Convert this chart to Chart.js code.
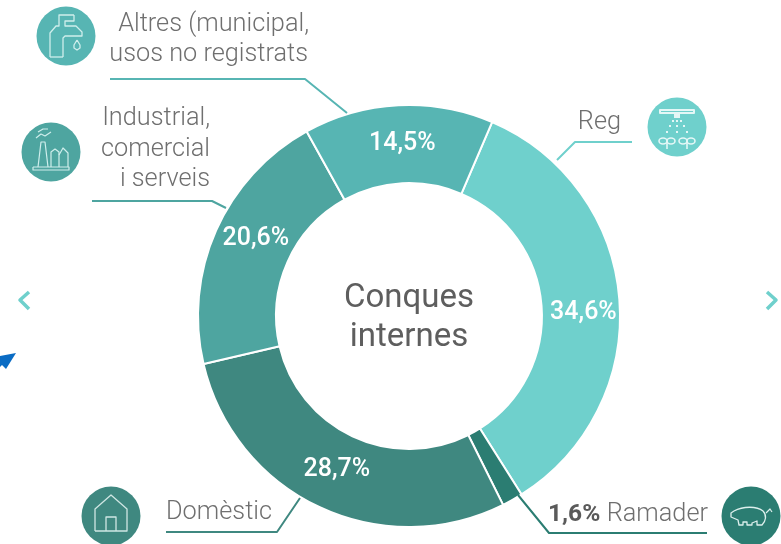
<!DOCTYPE html>
<html><head><meta charset="utf-8">
<style>html,body{margin:0;padding:0;background:#fff}canvas{display:block}#w{width:781px;height:544px;position:relative}</style>
<script src="https://cdn.jsdelivr.net/npm/chart.js@4/dist/chart.umd.min.js"></script>
</head><body><div id="w"><canvas id="c" width="781" height="544"></canvas></div>
<script>
const categories=['Reg','Ramader','Domèstic','Industrial, comercial i serveis','Altres (municipal, usos no registrats)'];
const shares=[34.6,1.6,28.7,20.6,14.5];
const colours=['#6fd0cc','#2b7d72','#3f8880','#4ea5a0','#57b5b3'];
const centerLines=['Conques','internes'];
const pctOffsets=[[3,8],null,[1,-5],[4,-10],[2,-3]];
const FONT='Roboto, sans-serif';
const TEXT='#6f6f6f';
function poly(c,pts,col,w){c.beginPath();pts.forEach((p,i)=>i?c.lineTo(p[0],p[1]):c.moveTo(p[0],p[1]));c.strokeStyle=col;c.lineWidth=w;c.lineJoin='round';c.stroke();}
function disc(c,x,y,r,col){c.beginPath();c.arc(x,y,r,0,Math.PI*2);c.fillStyle=col;c.fill();}
function tap(c,x,y){const s='#cfeeec';
 poly(c,[[x-16,y+21],[x-16,y-3],[x-10,y-10],[x-7,y-10],[x-7,y-21],[x+8,y-21]],s,1.3);
 poly(c,[[x-3,y+21],[x-16,y+21]],s,1.3);
 poly(c,[[x-3,y+21],[x-3,y+2],[x-1,y],[x+16,y],[x+16,y-4],[x+10,y-10],[x-1,y-10],[x-1,y-15],[x+8,y-15],[x+8,y-21]],s,1.3);
 poly(c,[[x+11,y+4],[x+8,y+9],[x+8,y+12],[x+11,y+14],[x+14,y+12],[x+14,y+9],[x+11,y+4]],s,1.3);}
let c0;
function factory(x,y){const s='#cfeeec';
 poly(c0,[[x-18,y+15],[x+18,y+15],[x+18,y+18],[x-18,y+18],[x-18,y+15]],s,1.2);
 poly(c0,[[x-13,y+15],[x-10,y-10],[x-6,y-10],[x-3,y+15]],s,1.2);
 poly(c0,[[x,y+15],[x,y],[x+4,y-3],[x+8,y],[x+8,y+15]],s,1.2);
 poly(c0,[[x+8,y+3],[x+12,y-4],[x+17,y+1],[x+17,y+15]],s,1.2);
 poly(c0,[[x-15,y-14],[x-10,y-18],[x-6,y-16],[x,y-20]],s,1.2);
 poly(c0,[[x-13,y-20],[x-8,y-23],[x-3,y-23]],s,1.2);}
function sprinkler(x,y){const s='#e4f7f6';
 c0.fillStyle=s;c0.strokeStyle=s;c0.lineWidth=2;
 c0.strokeRect(x-17,y-17,34,3);c0.fillRect(x-3,y-14,6,5);
 [[-10,5],[-7,-1],[-4,-6],[0,5],[0,-1],[0,-6],[10,5],[7,-1],[4,-6]].forEach(d=>{c0.fillRect(x+d[0]-1,y+d[1]-1,2,2);});
 [-10,10].forEach(d=>{poly(c0,[[x+d,y+22],[x+d,y+13]],s,1.6);
  c0.lineWidth=1.6;
  [-4,4].forEach(e=>{c0.beginPath();c0.ellipse(x+d+e,y+14,4,3,0,0,7);c0.stroke();});});}
function house(x,y){const s='#cfe6e3';
 poly(c0,[[x-16,y+15],[x-16,y-7],[x,y-21],[x+16,y-7],[x+16,y+15],[x-16,y+15]],s,1.3);
 poly(c0,[[x-5,y+15],[x-5,y+1],[x+5,y+1],[x+5,y+15]],s,1.3);}
function pig(x,y){const s='#dcefec';
 c0.beginPath();c0.moveTo(x-17,y-5);c0.bezierCurveTo(x-8,y-10,x+6,y-10,x+12,y-5);c0.bezierCurveTo(x+16,y-1,x+15,y+5,x+11,y+9);
 c0.lineTo(x+6,y+9);c0.lineTo(x+6,y+5);c0.lineTo(x+1,y+7);c0.lineTo(x+1,y+9);c0.lineTo(x-4,y+9);c0.lineTo(x-4,y+6);c0.lineTo(x-8,y+6);c0.lineTo(x-8,y+9);c0.lineTo(x-12,y+9);c0.lineTo(x-13,y+4);c0.lineTo(x-20,y+1);c0.lineTo(x-20,y-3);c0.closePath();
 c0.strokeStyle=s;c0.lineWidth=1.3;c0.stroke();
 poly(c0,[[x+15,y-3],[x+19,y-7],[x+21,y-4]],s,1.2);}
function txt(c,s,x,y,al,font,col){c.font=font;c.textAlign=al;c.textBaseline='alphabetic';c.fillStyle=col;c.fillText(s,x,y);}
const deco={id:'deco',afterDatasetsDraw(ch){
 const c=ch.ctx;c0=c;c.save();
 const L='300 25.3px '+FONT;
 poly(c,[[110,79],[305,79],[347,113]],colours[4],2);
 poly(c,[[92,201],[212,201],[226,208]],colours[3],2);
 poly(c,[[632,142],[575,142],[557,160]],colours[0],2);
 poly(c,[[166,532],[277,532],[300,498]],colours[2],2);
 poly(c,[[707,533],[549,533],[518,495]],colours[1],2);
 disc(c,66,36,29.5,colours[4]);tap(c,66,36);
 disc(c,51,152,29.5,colours[3]);factory(51,152);
 disc(c,677,127,29.5,colours[0]);sprinkler(677,127);
 disc(c,111,516,29.5,colours[2]);house(111,516);
 disc(c,751,516,29.5,colours[1]);pig(751,516);
 txt(c,'Altres (municipal,',309,31,'right',L,TEXT);
 txt(c,'usos no registrats',308,61,'right',L,TEXT);
 txt(c,'Industrial,',210,125,'right',L,TEXT);
 txt(c,'comercial',210,156,'right',L,TEXT);
 txt(c,'i serveis',210,186,'right',L,TEXT);
 txt(c,'Reg',621,129,'right',L,TEXT);
 txt(c,'Domèstic',272,519,'right',L,TEXT);
 txt(c,'Ramader',708,521,'right',L,TEXT);
 txt(c,'1,6%',548,521,'left','700 24.5px '+FONT,'#5a5a5a');
 const meta=ch.getDatasetMeta(0);
 meta.data.forEach((a,i)=>{const o=pctOffsets[i];if(!o)return;
  const m=(a.startAngle+a.endAngle)/2,r=(a.innerRadius+a.outerRadius)/2;
  txt(c,String(shares[i]).replace('.',',')+'%',a.x+Math.cos(m)*r+o[0],a.y+Math.sin(m)*r+o[1]+9,'center','500 25px '+FONT,'#ffffff');});
 const a0=meta.data[0];
 txt(c,centerLines[0],a0.x,a0.y-9,'center','400 33px '+FONT,'#5e5e5e');
 txt(c,centerLines[1],a0.x,a0.y+30,'center','400 33px '+FONT,'#5e5e5e');
 poly(c,[[29,292],[20,300],[29,309]],'#6fd0cc',3.5);
 poly(c,[[767,292],[776,300],[767,309]],'#6fd0cc',3.5);
 c.beginPath();c.moveTo(16,353);c.lineTo(6,369);c.lineTo(2,365);c.lineTo(0,367);c.lineTo(0,356);c.closePath();c.fillStyle='#0a6cc4';c.fill();
 c.restore();}};
new Chart(document.getElementById('c'),{type:'doughnut',
 data:{labels:categories,datasets:[{data:shares,backgroundColor:colours,borderColor:'#ffffff',borderWidth:2,borderAlign:'center'}]},
 options:{responsive:false,animation:false,rotation:23.2,cutout:'63%',
  layout:{padding:{left:197,right:160,top:104,bottom:16}},
  plugins:{legend:{display:false},tooltip:{enabled:false}}},
 plugins:[deco]});
</script></body></html>
